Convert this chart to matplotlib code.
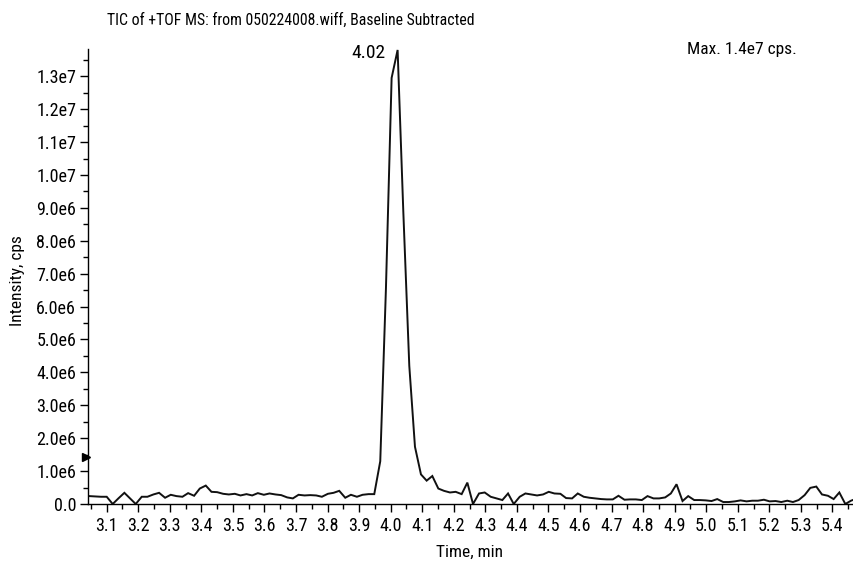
import matplotlib
matplotlib.use("Agg")
import matplotlib.pyplot as plt
from matplotlib.ticker import FixedLocator, FixedFormatter

plt.rcParams['font.family'] = ['Roboto Condensed', 'DejaVu Sans']

# ---- data (time in min, intensity in 1e6 cps) ----
time_min = [
    3.045, 3.063, 3.082, 3.100, 3.119, 3.137, 3.156, 3.174, 3.192, 3.211,
    3.229, 3.248, 3.266, 3.285, 3.303, 3.321, 3.340, 3.358, 3.377, 3.395,
    3.414, 3.432, 3.450, 3.469, 3.487, 3.506, 3.524, 3.543, 3.561, 3.579,
    3.598, 3.616, 3.635, 3.653, 3.672, 3.690, 3.708, 3.727, 3.745, 3.764,
    3.782, 3.801, 3.819, 3.837, 3.856, 3.874, 3.893, 3.911, 3.930, 3.948,
    3.967, 3.985, 4.003, 4.022, 4.040, 4.059, 4.077, 4.096, 4.114, 4.132,
    4.151, 4.169, 4.188, 4.206, 4.225, 4.243, 4.261, 4.280, 4.298, 4.317,
    4.335, 4.354, 4.372, 4.390, 4.409, 4.427, 4.446, 4.464, 4.483, 4.501,
    4.519, 4.538, 4.556, 4.575, 4.593, 4.612, 4.630, 4.648, 4.667, 4.685,
    4.704, 4.722, 4.741, 4.759, 4.777, 4.796, 4.814, 4.833, 4.851, 4.870,
    4.888, 4.906, 4.925, 4.943, 4.962, 4.980, 4.999, 5.017, 5.035, 5.054,
    5.072, 5.091, 5.109, 5.128, 5.146, 5.164, 5.183, 5.201, 5.220, 5.238,
    5.257, 5.275, 5.293, 5.312, 5.330, 5.349, 5.367, 5.386, 5.404, 5.422,
    5.441, 5.459, 5.478,
]
intensity_1e6 = [
    0.24, 0.23, 0.22, 0.22, 0.00, 0.17, 0.34, 0.17, 0.00, 0.22,
    0.22, 0.29, 0.34, 0.19, 0.28, 0.24, 0.22, 0.33, 0.25, 0.47,
    0.56, 0.37, 0.36, 0.31, 0.29, 0.31, 0.26, 0.30, 0.26, 0.33,
    0.28, 0.32, 0.29, 0.27, 0.20, 0.17, 0.28, 0.26, 0.27, 0.26,
    0.22, 0.31, 0.34, 0.40, 0.19, 0.28, 0.22, 0.28, 0.30, 0.30,
    1.30, 6.55, 12.95, 13.80, 8.90, 4.20, 1.74, 0.90, 0.71, 0.85,
    0.47, 0.40, 0.35, 0.37, 0.30, 0.65, 0.00, 0.32, 0.35, 0.22,
    0.17, 0.12, 0.32, 0.00, 0.22, 0.32, 0.29, 0.26, 0.29, 0.37,
    0.32, 0.31, 0.18, 0.17, 0.32, 0.22, 0.19, 0.17, 0.15, 0.14,
    0.14, 0.25, 0.13, 0.14, 0.14, 0.12, 0.24, 0.17, 0.17, 0.20,
    0.32, 0.60, 0.09, 0.24, 0.12, 0.12, 0.11, 0.09, 0.15, 0.06,
    0.06, 0.08, 0.11, 0.08, 0.10, 0.10, 0.13, 0.08, 0.09, 0.06,
    0.10, 0.06, 0.12, 0.27, 0.49, 0.53, 0.29, 0.25, 0.15, 0.35,
    0.00, 0.10, 0.17,
]
intensity = [v * 1e6 for v in intensity_1e6]

x_major = [3.1, 3.2, 3.3, 3.4, 3.5, 3.6, 3.7, 3.8, 3.9, 4.0, 4.1, 4.2,
           4.3, 4.4, 4.5, 4.6, 4.7, 4.8, 4.9, 5.0, 5.1, 5.2, 5.3, 5.4]
x_labels = ["3.1", "3.2", "3.3", "3.4", "3.5", "3.6", "3.7", "3.8", "3.9",
            "4.0", "4.1", "4.2", "4.3", "4.4", "4.5", "4.6", "4.7", "4.8",
            "4.9", "5.0", "5.1", "5.2", "5.3", "5.4"]
x_minor = [3.05, 3.15, 3.25, 3.35, 3.45, 3.55, 3.65, 3.75, 3.85, 3.95,
           4.05, 4.15, 4.25, 4.35, 4.45, 4.55, 4.65, 4.75, 4.85, 4.95,
           5.05, 5.15, 5.25, 5.35, 5.45]
y_major = [0, 1e6, 2e6, 3e6, 4e6, 5e6, 6e6, 7e6, 8e6, 9e6, 1e7, 1.1e7, 1.2e7, 1.3e7]
y_labels = ["0.0", "1.0e6", "2.0e6", "3.0e6", "4.0e6", "5.0e6", "6.0e6", "7.0e6",
            "8.0e6", "9.0e6", "1.0e7", "1.1e7", "1.2e7", "1.3e7"]
y_minor = [0.5e6, 1.5e6, 2.5e6, 3.5e6, 4.5e6, 5.5e6, 6.5e6, 7.5e6, 8.5e6,
           9.5e6, 1.05e7, 1.15e7, 1.25e7, 1.35e7]

peak_time = 4.022
peak_intensity = 13.80e6
peak_label = "4.02"
threshold_level = 1.43e6
title_text = "TIC of +TOF MS: from 050224008.wiff, Baseline Subtracted"
max_text = "Max. 1.4e7 cps."

# ---- figure ----
W, H = 854, 561
fig = plt.figure(figsize=(W / 100, H / 100), dpi=100)
ax_left, ax_right, ax_bottom, ax_top = 88, 854, 504, 49.3
ax = fig.add_axes([ax_left / W, (H - ax_bottom) / H,
                   (ax_right - ax_left) / W, (ax_bottom - ax_top) / H])

ax.plot(time_min, intensity, color='#111111', lw=1.4, solid_joinstyle='miter')
ax.set_xlim(3.0407, 5.4685)
ax.set_ylim(0, 13.82e6)

for s in ('top', 'right'):
    ax.spines[s].set_visible(False)
for s in ('left', 'bottom'):
    ax.spines[s].set_linewidth(1.0)

ax.xaxis.set_major_locator(FixedLocator(x_major))
ax.xaxis.set_major_formatter(FixedFormatter(x_labels))
ax.xaxis.set_minor_locator(FixedLocator(x_minor))
ax.yaxis.set_major_locator(FixedLocator(y_major))
ax.yaxis.set_major_formatter(FixedFormatter(y_labels))
ax.yaxis.set_minor_locator(FixedLocator(y_minor))
ax.tick_params(axis='both', which='major', direction='out', length=5.5,
               width=1.0, labelsize=13, colors='black')
ax.tick_params(axis='both', which='minor', direction='out', length=3.5, width=1.0)
ax.tick_params(axis='x', which='major', pad=4)
ax.tick_params(axis='y', which='major', pad=3)

# threshold marker on the y axis
ax.plot([-0.0025], [threshold_level], marker='>', ms=6, color='black',
        transform=ax.get_yaxis_transform(), clip_on=False)

# peak label
ax.annotate(peak_label, xy=(peak_time, peak_intensity), xytext=(-21, -2.5),
            textcoords='offset points', ha='center', va='center', fontsize=14)

fig.text(107 / W, 1 - 20 / H, title_text, ha='left', va='center', fontsize=11.3)
fig.text(741.5 / W, 1 - 49 / H, max_text, ha='center', va='center', fontsize=12.5)
fig.text(18 / W, 1 - 281 / H, "Intensity, cps", rotation=90, ha='center',
         va='center', fontsize=12.5)
fig.text(469 / W, 1 - 552 / H, "Time, min", ha='center', va='center', fontsize=12.5)

fig.savefig("out.png", dpi=100)
